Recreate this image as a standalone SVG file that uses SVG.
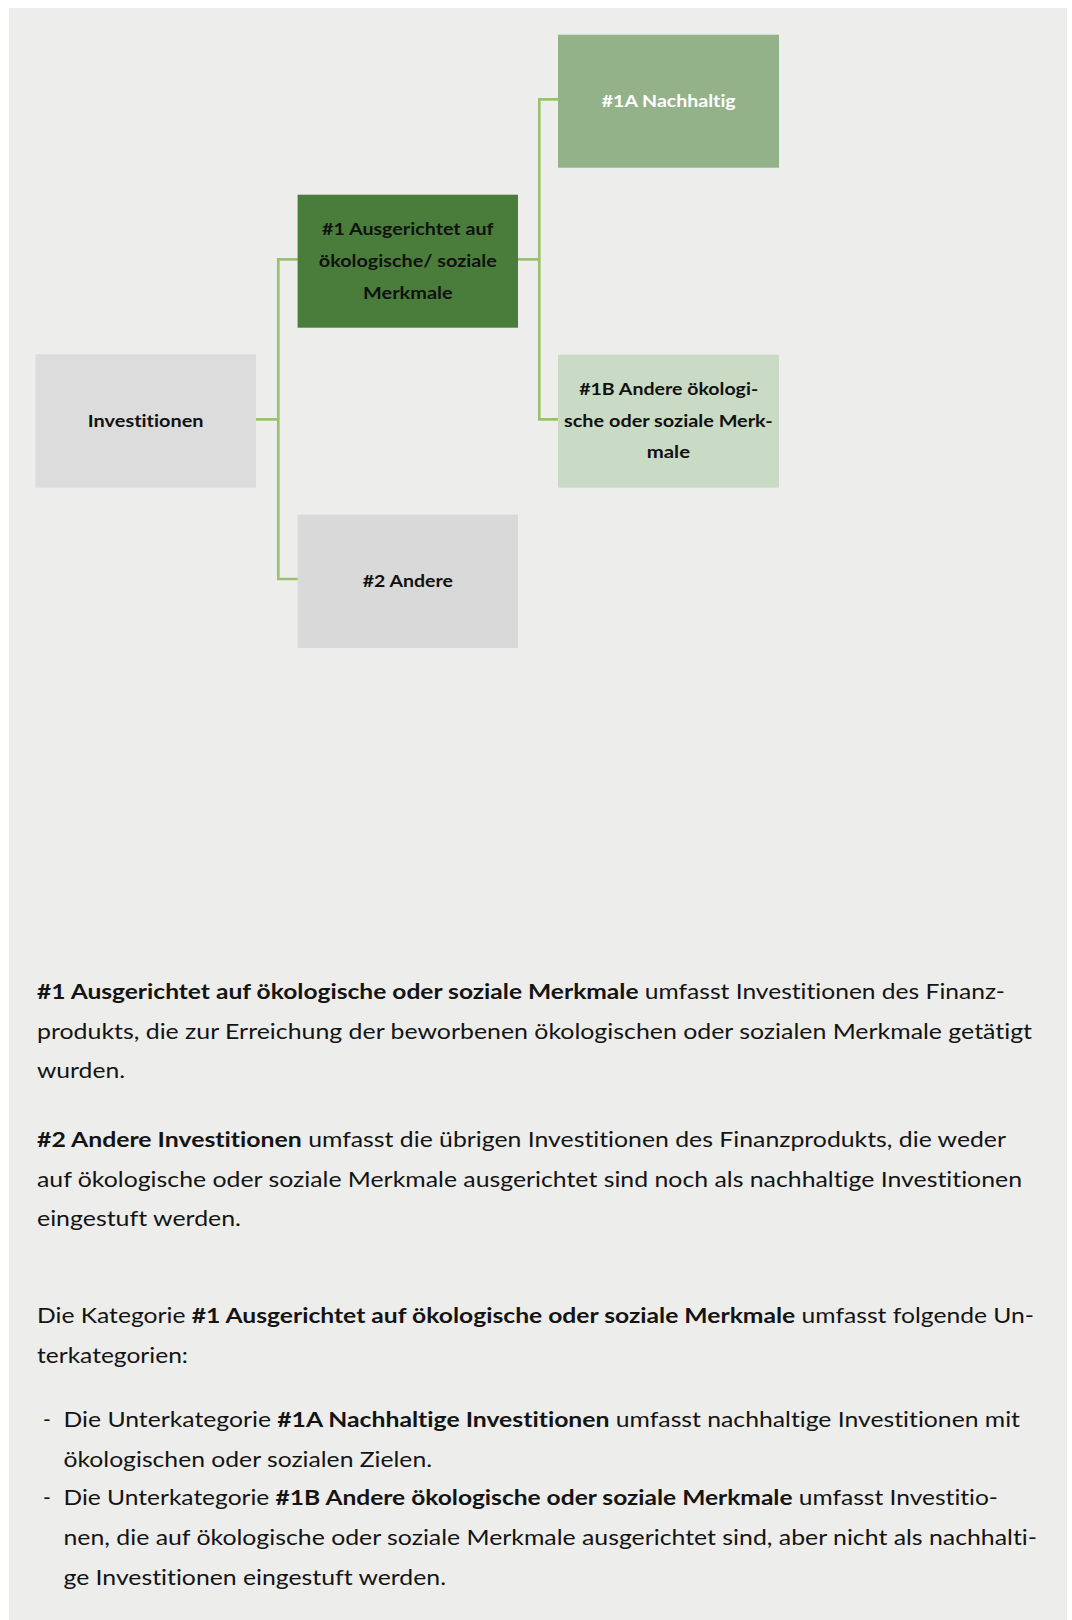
<svg xmlns="http://www.w3.org/2000/svg" width="1072" height="1620" viewBox="0 0 1072 1620">
<style>
.bg{fill:#EDEDEB}
text{font-variant-ligatures:none;font-feature-settings:"liga" 0}
.node text{font-family:Lato,"Liberation Sans",sans-serif;font-weight:bold;font-size:17.5px;fill:#111;text-anchor:middle}
.conn{fill:none;stroke:#98C36E;stroke-width:2.7;stroke-linecap:square;stroke-linejoin:miter}
.body{font-family:Lato,"Liberation Sans",sans-serif;font-size:21px;fill:#141414}
.b{font-weight:bold}
</style>
<rect class="bg" x="9" y="8" width="1058" height="1612"/>
<g id="connectors">
<path class="conn" d="M256 419.3H278.3M278.3 259.3V579M278.3 259.3H297.6M278.3 579H297.6"/>
<path class="conn" d="M518 259.3H539.3M539.3 99.3V419.3M539.3 99.3H558M539.3 419.3H558"/>
</g>
<g id="node-investitionen" class="node">
<rect x="35.5" y="354.3" width="220.5" height="133.4" fill="#DCDCDC"/>
<text x="145.7" y="426.7" textLength="115.7" lengthAdjust="spacingAndGlyphs">Investitionen</text>
</g>
<g id="node-1" class="node">
<rect x="297.6" y="194.7" width="220.4" height="133" fill="#4A7D3B"/>
<text x="407.8" y="235" textLength="171.5" lengthAdjust="spacingAndGlyphs">#1 Ausgerichtet auf</text>
<text x="407.8" y="267.3" textLength="178" lengthAdjust="spacingAndGlyphs">ökologische/ soziale</text>
<text x="407.8" y="299" textLength="89.6" lengthAdjust="spacingAndGlyphs">Merkmale</text>
</g>
<g id="node-2" class="node">
<rect x="297.6" y="514.7" width="220.4" height="133.3" fill="#D9D9D9"/>
<text x="407.8" y="586.7" textLength="90" lengthAdjust="spacingAndGlyphs">#2 Andere</text>
</g>
<g id="node-1a" class="node">
<rect x="558" y="34.7" width="221" height="133" fill="#93B28A"/>
<text x="668.7" y="107.3" textLength="134" lengthAdjust="spacingAndGlyphs" style="fill:#fff">#1A Nachhaltig</text>
</g>
<g id="node-1b" class="node">
<rect x="558" y="354.7" width="221" height="133" fill="#C9DAC5"/>
<text x="668.7" y="395" textLength="179" lengthAdjust="spacingAndGlyphs">#1B Andere ökologi-</text>
<text x="668.4" y="426.7" textLength="208.7" lengthAdjust="spacingAndGlyphs">sche oder soziale Merk-</text>
<text x="668.4" y="458.3" textLength="43.3" lengthAdjust="spacingAndGlyphs">male</text>
</g>
<g id="description" class="body">
<text x="37" y="999" textLength="968" lengthAdjust="spacingAndGlyphs"><tspan class="b">#1 Ausgerichtet auf ökologische oder soziale Merkmale</tspan> umfasst Investitionen des Finanz-</text>
<text x="37" y="1039" textLength="995" lengthAdjust="spacingAndGlyphs">produkts, die zur Erreichung der beworbenen ökologischen oder sozialen Merkmale getätigt</text>
<text x="37" y="1078" textLength="88" lengthAdjust="spacingAndGlyphs">wurden.</text>
<text x="37" y="1147" textLength="969" lengthAdjust="spacingAndGlyphs"><tspan class="b">#2 Andere Investitionen</tspan> umfasst die übrigen Investitionen des Finanzprodukts, die weder</text>
<text x="37" y="1187" textLength="985" lengthAdjust="spacingAndGlyphs">auf ökologische oder soziale Merkmale ausgerichtet sind noch als nachhaltige Investitionen</text>
<text x="37" y="1226" textLength="204" lengthAdjust="spacingAndGlyphs">eingestuft werden.</text>
<text x="37" y="1323" textLength="997" lengthAdjust="spacingAndGlyphs">Die Kategorie <tspan class="b">#1 Ausgerichtet auf ökologische oder soziale Merkmale</tspan> umfasst folgende Un-</text>
<text x="37" y="1363" textLength="151" lengthAdjust="spacingAndGlyphs">terkategorien:</text>
<text x="43" y="1427">-</text>
<text x="63.5" y="1427" textLength="956.5" lengthAdjust="spacingAndGlyphs">Die Unterkategorie <tspan class="b">#1A Nachhaltige Investitionen</tspan> umfasst nachhaltige Investitionen mit</text>
<text x="63.5" y="1467" textLength="368.5" lengthAdjust="spacingAndGlyphs">ökologischen oder sozialen Zielen.</text>
<text x="43" y="1505">-</text>
<text x="63.5" y="1505" textLength="934.5" lengthAdjust="spacingAndGlyphs">Die Unterkategorie <tspan class="b">#1B Andere ökologische oder soziale Merkmale</tspan> umfasst Investitio-</text>
<text x="63.5" y="1545" textLength="973.5" lengthAdjust="spacingAndGlyphs">nen, die auf ökologische oder soziale Merkmale ausgerichtet sind, aber nicht als nachhalti-</text>
<text x="63.5" y="1585" textLength="382.5" lengthAdjust="spacingAndGlyphs">ge Investitionen eingestuft werden.</text>
</g>
</svg>
